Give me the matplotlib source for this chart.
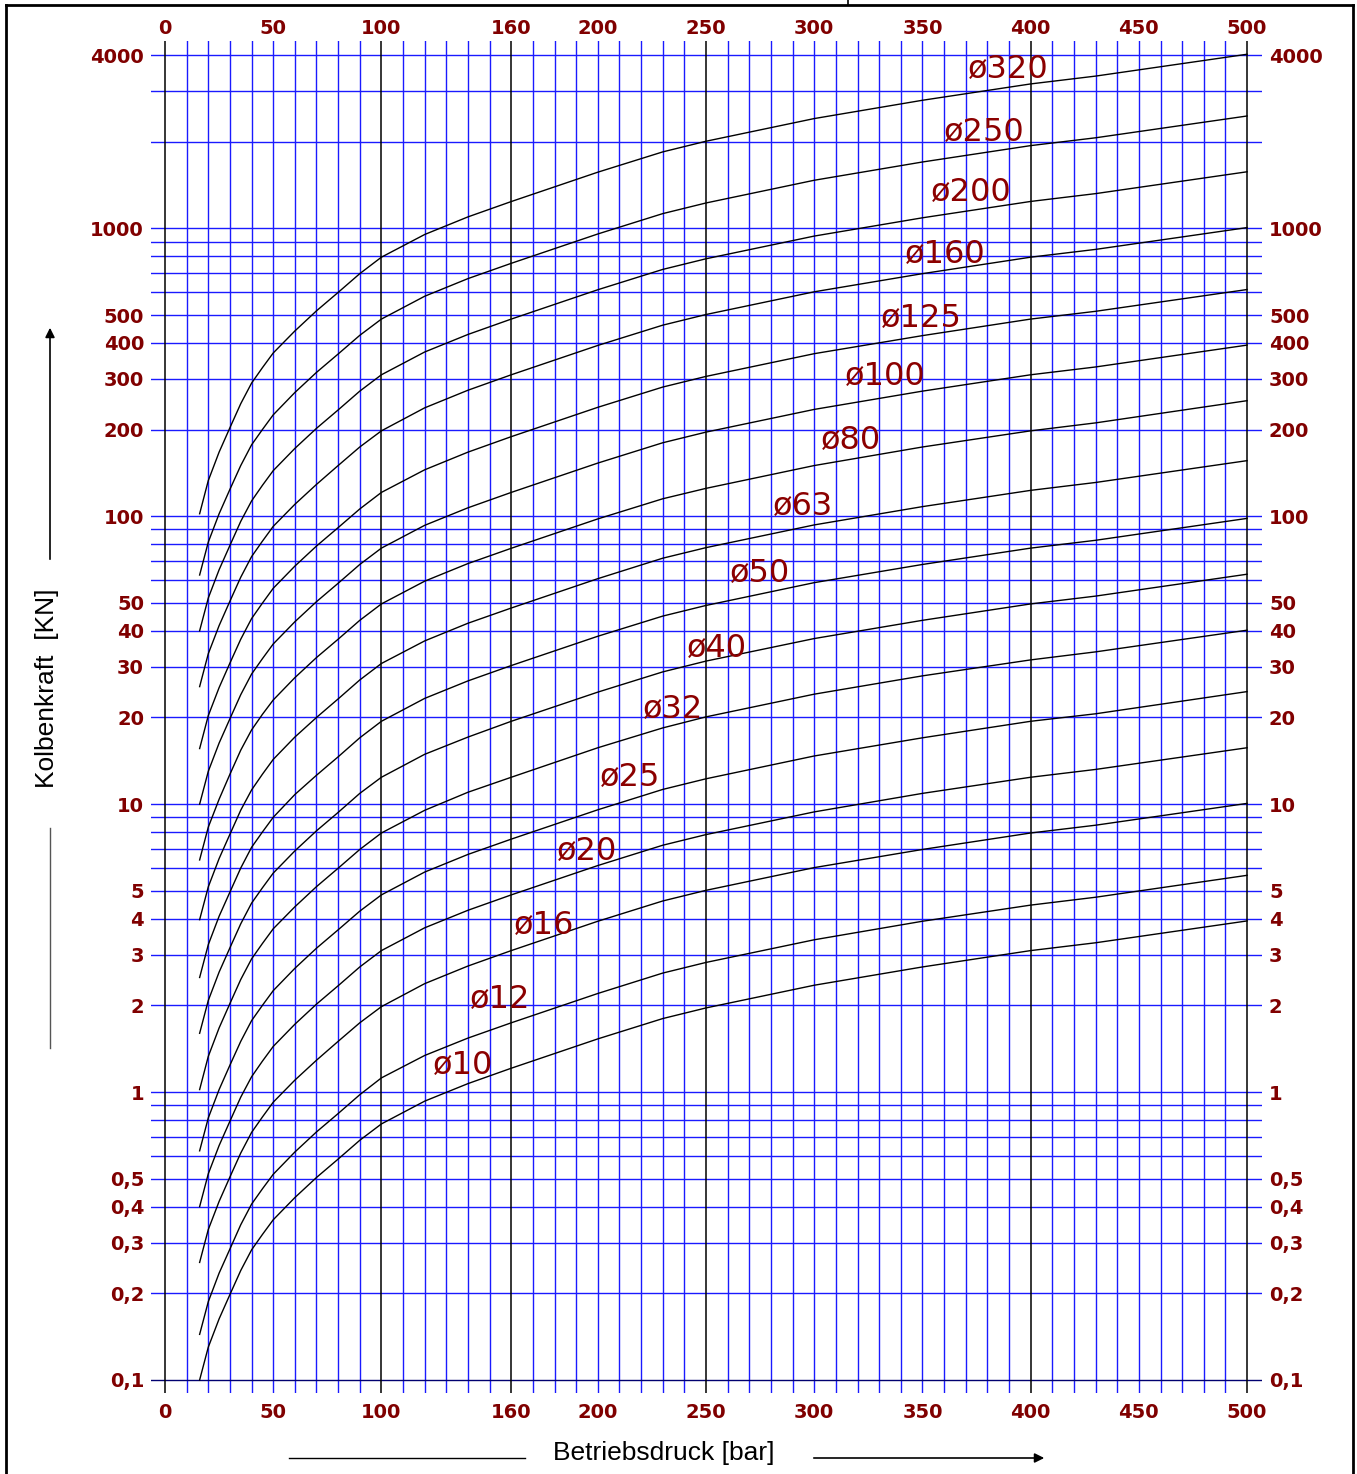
import numpy as np
import matplotlib
matplotlib.use('Agg')
import matplotlib.pyplot as plt
from matplotlib.lines import Line2D
from matplotlib.ticker import NullLocator

W, H = 1357, 1474
dark_red = '#800000'
label_red = '#8B0000'

pressure = [16, 20, 25, 30, 35, 40, 45, 50, 60, 70, 80, 90, 100, 120, 140, 160,
            200, 230, 250, 300, 350, 400, 430, 500]

# piston force [kN] for each bore diameter
f_10  = [0.1, 0.13, 0.163, 0.198, 0.24, 0.283, 0.32, 0.36, 0.43, 0.505, 0.585, 0.68,
         0.775, 0.93, 1.07, 1.21, 1.53, 1.8, 1.96, 2.35, 2.72, 3.1, 3.3, 3.93]
f_12  = [0.144, 0.187, 0.235, 0.285, 0.346, 0.408, 0.461, 0.518, 0.619, 0.727, 0.842, 0.979,
         1.12, 1.34, 1.54, 1.74, 2.20, 2.59, 2.82, 3.38, 3.92, 4.46, 4.75, 5.66]
f_16  = [0.256, 0.333, 0.417, 0.507, 0.614, 0.724, 0.819, 0.922, 1.10, 1.29, 1.50, 1.74,
         1.98, 2.38, 2.74, 3.10, 3.92, 4.61, 5.02, 6.02, 6.96, 7.94, 8.45, 10.06]
f_20  = [0.4, 0.52, 0.652, 0.792, 0.96, 1.13, 1.28, 1.44, 1.72, 2.02, 2.34, 2.72,
         3.1, 3.72, 4.28, 4.84, 6.12, 7.2, 7.84, 9.4, 10.9, 12.4, 13.2, 15.7]
f_25  = [0.625, 0.813, 1.02, 1.24, 1.5, 1.77, 2.0, 2.25, 2.69, 3.16, 3.66, 4.25,
         4.84, 5.81, 6.69, 7.56, 9.56, 11.25, 12.25, 14.7, 17.0, 19.4, 20.6, 24.6]
f_32  = [1.02, 1.33, 1.67, 2.03, 2.46, 2.9, 3.28, 3.69, 4.4, 5.17, 5.99, 6.96,
         7.94, 9.52, 11.0, 12.4, 15.7, 18.4, 20.1, 24.1, 27.9, 31.7, 33.8, 40.2]
f_40  = [1.6, 2.08, 2.61, 3.17, 3.84, 4.53, 5.12, 5.76, 6.88, 8.08, 9.36, 10.9,
         12.4, 14.9, 17.1, 19.4, 24.5, 28.8, 31.4, 37.6, 43.5, 49.6, 52.8, 62.9]
f_50  = [2.5, 3.25, 4.08, 4.95, 6.0, 7.08, 8.0, 9.0, 10.8, 12.6, 14.6, 17.0,
         19.4, 23.3, 26.8, 30.3, 38.3, 45.0, 49.0, 58.8, 68.0, 77.5, 82.5, 98.3]
f_63  = [3.97, 5.16, 6.47, 7.86, 9.53, 11.2, 12.7, 14.3, 17.1, 20.0, 23.2, 27.0,
         30.8, 36.9, 42.5, 48.0, 60.7, 71.5, 77.8, 93.3, 108, 123, 131, 156]
f_80  = [6.4, 8.32, 10.4, 12.7, 15.4, 18.1, 20.5, 23.0, 27.5, 32.3, 37.4, 43.5,
         49.6, 59.5, 68.5, 77.4, 97.9, 115, 125, 150, 174, 198, 211, 252]
f_100 = [10, 13, 16.3, 19.8, 24, 28.3, 32, 36, 43, 50.5, 58.5, 68,
         77.5, 93, 107, 121, 153, 180, 196, 235, 272, 310, 330, 393]
f_125 = [15.6, 20.3, 25.4, 30.9, 37.4, 44.1, 49.9, 56.2, 67.1, 78.8, 91.3, 106,
         121, 145, 167, 189, 239, 281, 306, 367, 424, 484, 515, 613]
f_160 = [25.6, 33.3, 41.7, 50.7, 61.4, 72.4, 81.9, 92.2, 110, 129, 150, 174,
         198, 238, 274, 310, 392, 461, 502, 602, 696, 794, 845, 1006]
f_200 = [40, 52, 65.2, 79.2, 96, 113, 128, 144, 172, 202, 234, 272,
         310, 372, 428, 484, 612, 720, 784, 940, 1088, 1240, 1320, 1572]
f_250 = [62.5, 81.3, 102, 124, 150, 177, 200, 225, 269, 316, 366, 425,
         484, 581, 669, 756, 956, 1125, 1225, 1469, 1700, 1938, 2063, 2456]
f_320 = [102, 133, 167, 203, 246, 290, 328, 369, 440, 517, 599, 696,
         794, 952, 1096, 1239, 1567, 1843, 2007, 2406, 2785, 3174, 3379, 4024]

curves = [f_10, f_12, f_16, f_20, f_25, f_32, f_40, f_50, f_63, f_80,
          f_100, f_125, f_160, f_200, f_250, f_320]
names = ['ø10', 'ø12', 'ø16', 'ø20', 'ø25', 'ø32', 'ø40', 'ø50', 'ø63', 'ø80',
         'ø100', 'ø125', 'ø160', 'ø200', 'ø250', 'ø320']
# where each diameter label sits (bar, kN)
label_x = [124, 141, 161, 181, 201, 221, 241, 261, 281, 303, 314, 331, 342, 354, 360, 371]
label_y = [1.24, 2.09, 3.8, 6.87, 12.4, 21.4, 34.6, 63.5, 108, 183, 307, 488, 814, 1327, 2161, 3576]

xtick_values = [0, 50, 100, 160, 200, 250, 300, 350, 400, 450, 500]
ytick_values = [0.1, 0.2, 0.3, 0.4, 0.5, 1, 2, 3, 4, 5, 10, 20, 30, 40, 50,
                100, 200, 300, 400, 500, 1000, 4000]
ytick_labels = ['0,1', '0,2', '0,3', '0,4', '0,5', '1', '2', '3', '4', '5', '10', '20', '30',
                '40', '50', '100', '200', '300', '400', '500', '1000', '4000']

fig = plt.figure(figsize=(W / 100, H / 100), dpi=100)
ax = fig.add_axes([151 / W, 1 - 1393 / H, 1111 / W, 1352 / H])
ax.set_yscale('log')
ax.set_xlim(-6.47, 506.9)
ax.set_ylim(0.0901, 4474)

# grid
for x in range(0, 510, 10):
    if x in (0, 100, 160, 250, 400, 500):
        ax.axvline(x, color='black', lw=1.1, zorder=2)
    else:
        ax.axvline(x, color='#1a1aff', lw=1.0, zorder=1)
hlines = [k * 10.0 ** e for e in range(-1, 3) for k in range(1, 10)] + [1000, 2000, 3000, 4000]
for y in hlines:
    c = '#000070' if y == 0.1 else '#1a1aff'
    ax.axhline(y, color=c, lw=1.0, zorder=1)

for vals in curves:
    ax.plot(pressure, vals, color='black', lw=1.0, zorder=3)

for name, lx, ly in zip(names, label_x, label_y):
    ax.text(lx, ly, name, color=label_red, fontsize=23, ha='left', va='center', zorder=4)

for s in ax.spines.values():
    s.set_visible(False)
ax.set_xticks(xtick_values)
ax.set_xticklabels([str(v) for v in xtick_values], fontweight='bold')
ax.set_yticks(ytick_values)
ax.set_yticklabels(ytick_labels, fontweight='bold')
ax.yaxis.set_minor_locator(NullLocator())
ax.tick_params(axis='x', length=0, pad=7, labelsize=14, labelcolor=dark_red)
ax.tick_params(axis='y', length=0, right=True, labelright=True, pad=5,
               labelsize=14, labelcolor=dark_red)

top = ax.secondary_xaxis('top')
top.set_xticks(xtick_values)
top.set_xticklabels([str(v) for v in xtick_values], fontweight='bold')
top.tick_params(length=0, pad=2, labelsize=14, labelcolor=dark_red)
for s in top.spines.values():
    s.set_visible(False)

title_font = ['Liberation Sans Narrow', 'Liberation Sans', 'DejaVu Sans']

def fx(px):
    return px / W

def fy(py):
    return 1 - py / H

fig.text(fx(664), fy(1453), 'Betriebsdruck [bar]', family=title_font, fontsize=19,
         ha='center', va='center')
fig.text(fx(47), fy(688), 'Kolbenkraft  [KN]', family=title_font, fontsize=19,
         ha='center', va='center', rotation=90)

fig.add_artist(Line2D([fx(289), fx(525)], [fy(1458), fy(1458)], color='black', lw=1.0))
fig.add_artist(Line2D([fx(50), fx(50)], [fy(828), fy(1048)], color='#555555', lw=1.0))
ax.annotate('', xy=(fx(1047), fy(1458)), xytext=(fx(811), fy(1458)),
            xycoords='figure fraction', textcoords='figure fraction',
            arrowprops=dict(arrowstyle='-|>', color='black', lw=1.2, mutation_scale=14))
ax.annotate('', xy=(fx(50), fy(325)), xytext=(fx(50), fy(562)),
            xycoords='figure fraction', textcoords='figure fraction',
            arrowprops=dict(arrowstyle='-|>', color='black', lw=1.2, mutation_scale=14))

# page frame
fig.add_artist(Line2D([fx(6), fx(6)], [fy(5), 0], color='black', lw=2))
fig.add_artist(Line2D([fx(1353), fx(1353)], [fy(5), 0], color='black', lw=2))
fig.add_artist(Line2D([fx(6), fx(1353)], [fy(5), fy(5)], color='black', lw=2))
fig.add_artist(Line2D([fx(848), fx(848)], [1, fy(5)], color='black', lw=1.2))

fig.savefig('out.png', dpi=100)
